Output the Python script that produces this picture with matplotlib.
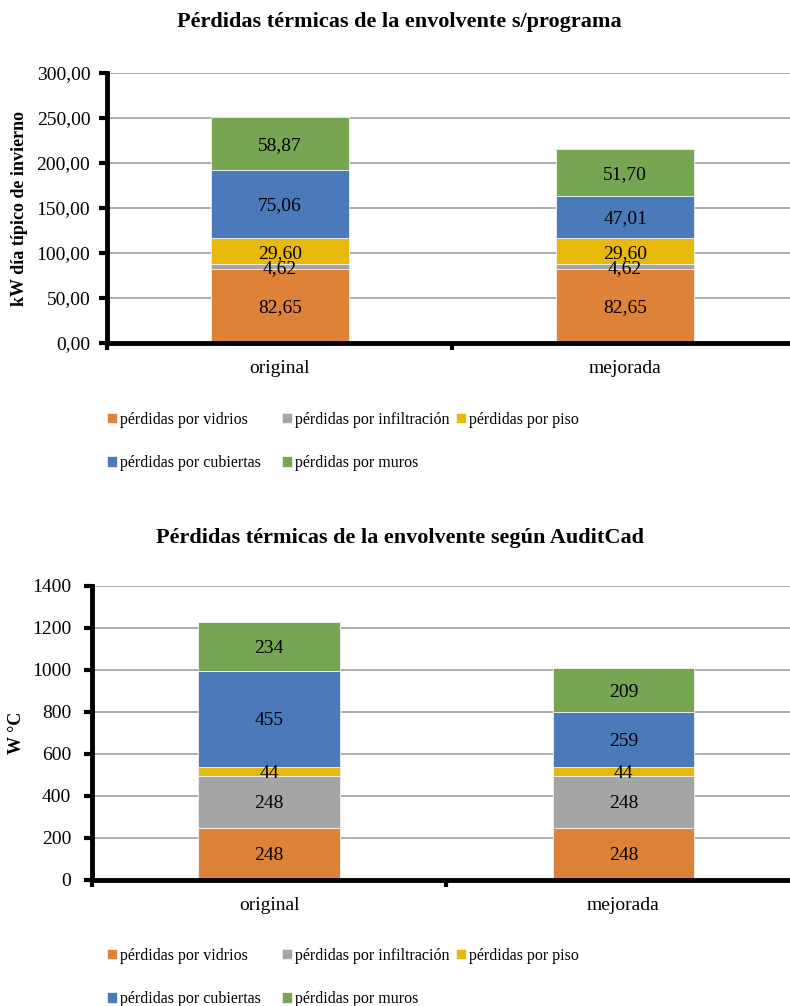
import matplotlib
matplotlib.use('Agg')
import matplotlib.pyplot as plt
import numpy as np

plt.rcParams['font.family'] = ['Liberation Serif', 'DejaVu Serif']

categorias = ['original', 'mejorada']
series = ['pérdidas por vidrios', 'pérdidas por infiltración', 'pérdidas por piso',
          'pérdidas por cubiertas', 'pérdidas por muros']
colores = ['#DE8237', '#A5A5A5', '#E8B90A', '#4A7ABA', '#76A651']

# kW dia tipico de invierno (s/programa)
prog_vidrios = [82.65, 82.65]
prog_infiltracion = [4.62, 4.62]
prog_piso = [29.60, 29.60]
prog_cubiertas = [75.06, 47.01]
prog_muros = [58.87, 51.70]

# W °C (AuditCad)
audit_vidrios = [248, 248]
audit_infiltracion = [248, 248]
audit_piso = [44, 44]
audit_cubiertas = [455, 259]
audit_muros = [234, 209]

W, H = 790, 1006
fig = plt.figure(figsize=(W / 100, H / 100), dpi=100)


def apilado(ax, datos, fmt, ymax, ystep, right, ypad):
    x = np.arange(len(categorias))
    base = np.zeros(len(categorias))
    handles = []
    for vals, nombre, c in zip(datos, series, colores):
        vals = np.array(vals, dtype=float)
        b = ax.bar(x, vals, 0.4, bottom=base, color=c, edgecolor='#f2f2f2',
                   linewidth=0.6, label=nombre, zorder=3)
        anns = ax.bar_label(b, labels=[fmt(v) for v in vals], label_type='center',
                            fontsize=14, color='black', zorder=4)
        for a in anns:
            a.set_verticalalignment('center_baseline')
        base += vals
        handles.append(b)
    ax.set_xlim(-0.5, right)
    ax.set_ylim(0, ymax)
    ax.set_yticks(np.arange(0, ymax + ystep / 2, ystep))
    ax.yaxis.grid(True, color='#A6A6A6', linewidth=1.3, zorder=0)
    ax.set_axisbelow(True)
    for s in ['top', 'right']:
        ax.spines[s].set_visible(False)
    ax.spines['left'].set_linewidth(3.5)
    ax.spines['bottom'].set_linewidth(3.5)
    ax.spines['bottom'].set_zorder(5)
    ax.set_xticks([-0.5, 0.5])
    ax.set_xticklabels([])
    ax.tick_params(axis='x', which='major', length=5, width=3, direction='out')
    ax.set_xticks(x, minor=True)
    ax.set_xticklabels(categorias, minor=True)
    ax.tick_params(axis='x', which='minor', length=0, pad=12, labelsize=14)
    ax.tick_params(axis='y', length=6, width=3, direction='out', labelsize=14, pad=ypad)
    return handles


def leyenda(h, left, ytop):
    # dos filas como en Excel: columnas 1-2 juntas, la tercera aparte
    orden = [0, 3, 1, 4]
    fig.legend([h[i] for i in orden], [series[i] for i in orden], ncol=2,
               loc='upper left', bbox_to_anchor=(left / W, 1 - ytop / H), frameon=False,
               fontsize=11.5, handlelength=0.6, handleheight=0.6, handletextpad=0.2,
               columnspacing=1.35, labelspacing=1.7, borderpad=0, borderaxespad=0)
    fig.legend([h[2]], [series[2]], loc='upper left',
               bbox_to_anchor=(456 / W, 1 - ytop / H), frameon=False,
               fontsize=11.5, handlelength=0.6, handleheight=0.6, handletextpad=0.2,
               borderpad=0, borderaxespad=0)


ax1 = fig.add_axes([107 / W, 1 - 343 / H, 1 - 107 / W, (343 - 73) / H])
h1 = apilado(ax1, [prog_vidrios, prog_infiltracion, prog_piso, prog_cubiertas, prog_muros],
             lambda v: f'{v:.2f}'.replace('.', ','), 300, 50, 1.477, 6)
ax1.yaxis.set_major_formatter(matplotlib.ticker.FuncFormatter(lambda v, p: f'{v:.2f}'.replace('.', ',')))
ax1.set_ylabel('kW día típico de invierno', fontsize=13, fontweight='bold')
ax1.yaxis.set_label_coords((28 - 107) / (W - 107), 0.5)
fig.text(0.506, 1 - 22 / H, 'Pérdidas térmicas de la envolvente s/programa',
         ha='center', va='center', fontsize=16, fontweight='bold')

ax2 = fig.add_axes([92 / W, 1 - 880 / H, 1 - 92 / W, (880 - 586) / H])
h2 = apilado(ax2, [audit_vidrios, audit_infiltracion, audit_piso, audit_cubiertas, audit_muros],
             lambda v: f'{v:.0f}', 1400, 200, 1.47, 9)
ax2.set_ylabel('W °C', fontsize=13, fontweight='bold')
ax2.yaxis.set_label_coords((25 - 92) / (W - 92), 0.5)
fig.text(0.506, 1 - 538 / H, 'Pérdidas térmicas de la envolvente según AuditCad',
         ha='center', va='center', fontsize=16, fontweight='bold')

leyenda(h1, 107, 412)
leyenda(h2, 107, 948)

fig.savefig('out.png', dpi=100)
